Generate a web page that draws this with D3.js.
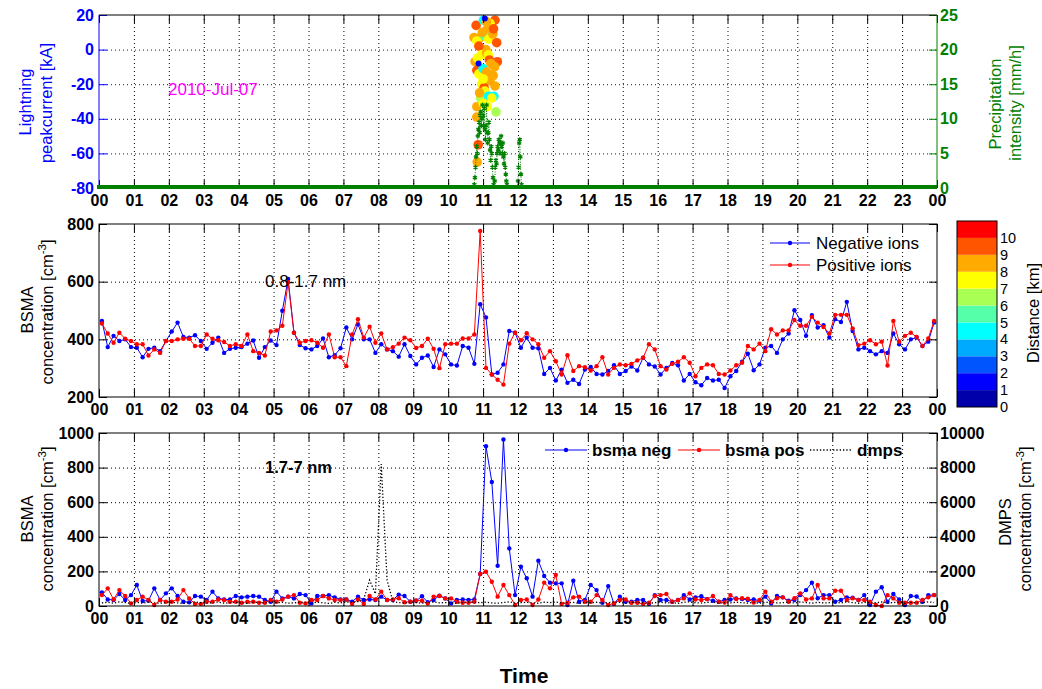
<!DOCTYPE html>
<html><head><meta charset="utf-8">
<script src="https://cdn.jsdelivr.net/npm/d3@7"></script>
<style>body{margin:0;background:#fff} svg text{font-family:"Liberation Sans",Arial,Helvetica,sans-serif}</style>
</head><body><svg id="c" width="1042" height="689"></svg>
<script>
// ---------------- DATA ----------------
const hourTicks = d3.range(0, 25);
const hourLabels = ["00","01","02","03","04","05","06","07","08","09","10","11","12","13","14","15","16","17","18","19","20","21","22","23","00"];
const lightTicks = [-80, -60, -40, -20, 0, 20];
const precipTicks = [0, 5, 10, 15, 20, 25];
const midTicks = [200, 400, 600, 800];
const lowTicks = [0, 200, 400, 600, 800, 1000];
const dmpsTicks = [0, 2000, 4000, 6000, 8000, 10000];
const distLabels = [0,1,2,3,4,5,6,7,8,9,10];
const distColors = ["#0000AA","#0000FF","#0055FF","#00AAFF","#00FFFF","#55FFAA","#AAFF55","#FFFF00","#FFAA00","#FF5500","#FF0000"];

// BSMA 10-min averages, 00:05 ... 23:55
const midNeg = [464,373,412,394,400,373, 371,338,367,371,359,394, 427,458,408,406,414,394, 367,388,406,353,367,371,
 373,385,396,336,373,396, 380,499,609,423,380,369, 365,377,403,338,345,369, 441,400,452,400,400,353,
 383,365,359,340,383,342, 313,336,344,304,365,348, 313,309,377,371,315,522, 476,278,284,313,429,423,
 371,406,371,369,280,301, 257,295,249,260,245,295, 304,280,278,290,310,280, 290,306,292,336,313,306,
 278,301,318,310,257,280, 251,241,266,257,260,231, 272,290,322,350,293,313, 371,377,353,400,420,501,
 467,412,484,441,449,406, 470,460,530,429,365,371, 359,348,359,353,420,383, 365,400,406,377,392,458];
const midPos = [455,420,388,423,402,394, 383,383,344,365,353,394, 394,400,402,402,377,377, 417,402,397,391,377,383,
 377,417,359,353,344,427, 431,447,598,423,388,394, 397,388,371,417,338,338, 307,417,470,406,444,388,
 420,365,373,385,406,397, 370,377,402,367,300,383, 385,385,403,403,417,776, 301,278,260,243,385,423,
 397,421,400,383,336,359, 324,278,345,290,307,303, 292,307,338,278,301,313, 310,315,327,336,383,365,
 307,295,315,322,338,319, 272,301,313,310,280,278, 292,310,319,377,365,385, 359,435,417,431,431,467,
 447,447,478,458,443,420, 485,485,485,438,380,385, 397,383,392,309,464,392, 412,423,408,377,403,464];
const lowNeg = [79,38,35,69,35,63, 121,29,31,102,35,73, 102,58,25,21,58,54, 35,83,44,38,38,58,
 50,54,58,54,35,25, 83,44,54,44,69,63, 15,58,58,63,50,38, 38,25,54,35,38,35,
 54,35,35,66,58,25, 30,56,22,35,60,44, 15,35,38,35,38,185, 923,717,233,962,333,63,
 227,160,54,262,173,135, 131,131,6,146,25,35, 121,92,19,115,12,54, 25,25,35,35,12,63,
 35,35,25,35,63,38, 50,56,40,30,25,35, 38,44,40,35,38,30, 54,15,58,50,30,35,
 63,92,135,45,63,63, 25,35,50,48,35,63, 6,83,108,25,69,38, 6,58,55,25,63,63];
const lowPos = [63,102,38,92,58,15, 35,54,35,6,35,25, 25,38,92,44,12,12, 25,25,38,35,25,25,
 19,25,25,19,19,35, 25,38,54,63,19,15, 35,35,58,44,35,35, 38,12,38,12,58,38,
 83,35,38,45,22,25, 32,30,14,54,58,44, 44,25,19,19,25,185, 198,140,54,121,63,6,
 35,38,6,38,135,102, 179,12,19,50,54,25, 25,63,35,6,15,35, 38,19,19,12,19,58,
 63,69,25,35,44,73, 38,35,40,58,25,20, 63,40,45,42,20,35, 83,25,45,50,25,45,
 73,38,44,121,44,44, 88,88,35,45,35,35, 25,6,0,63,44,19, 19,19,19,35,50,63];
const dmps = [180,220,160,240,200,150, 210,170,230,190,160,200, 220,180,150,210,240,190, 170,200,230,160,190,210,
 180,150,220,200,170,240, 190,210,160,180,230,200, 170,220,190,150,210,180, 230,200,260,400,1500,700,
 8200,1500,250,200,170,220, 190,160,210,240,180,200, 170,150,200,230,210,190, 220,180,160,200,240,170,
 190,210,180,160,220,200, 230,170,190,210,150,200, 180,220,160,190,240,210, 170,200,230,180,160,190,
 210,180,200,150,220,240, 190,170,210,230,160,200, 180,220,190,170,210,160, 200,240,180,190,220,170,
 230,200,160,210,180,190, 220,170,240,200,160,210, 180,190,230,170,200,220, 160,210,190,180,240,200];

// precipitation, 1-min values from 10:44
const precipStartHour = 10 + 44/60;
const precip = [0,0.5,1.5,3,4.5,6,5,7.5,8.5,9.5,8,10.5,11,9,10,12,10.5,9,11.5,8.5,7,9,12,8,6.5,8,9.5,7,5.5,4,6,5,3,1.5,0.5,0,
 1,3,4,3.5,5,6,5.5,7,6.5,5,6.5,7.5,6,5,6.5,4.5,3.5,5,3,2,1,0.5,
 0,0,0,0,0,0,0,0,0,0,0,0,0,0,0,0,0,0,
 1,3,6.5,7,4.5,2,0.5,0];

// lightning strikes: time [h], peak current [kA], distance [km]
const lightTime = [10.80,11.01,11.34,11.20,11.10,11.13,10.74,10.91,10.82,11.05,11.16,11.28,11.39,10.98,11.30,11.08,10.88,
 10.77,10.84,10.95,11.10,11.15,11.41,11.33,11.18,10.82,10.88,11.00,11.10,11.20,11.29,11.22,10.96,11.03,11.05,11.34,11.00,
 10.93,11.15,11.31,10.90,11.25,10.82,11.00,11.12,11.37,10.82,10.86,10.83,11.05,10.87];
const lightPeak = [14,17,17,15,16,12,7,7,5,8,6,9,4,10,12,0,2,
 -7,-5,-3,-2,-3,-7,-10,-6,-12,-14,-11,-13,-18,-15,-8,-20,-22,-24,-21,-17,
 -28,-27,-27,-25,-28,-33,-31,-33,-36,-39,-55,-65,18,-8];
const lightDist = [9,4,9,7,8,8,8,8,7,5,7,8,9,8,9,8,9,
 8,7,7,8,7,9,8,9,9,7,4,8,8,8,8,7,9,7,8,7,
 6,4,4,8,7,8,7,7,6,8,9,8,1,1];

// ---------------- LAYOUT ----------------
const X0 = 99, X1 = 937;
const P1 = {top: 15, bottom: 188}, P2 = {top: 224, bottom: 397}, P3 = {top: 433, bottom: 606};
const FONT = '"Liberation Sans", Arial, Helvetica, sans-serif';
const svg = d3.select('#c');
const x = d3.scaleLinear().domain([0, 24]).range([X0, X1]);
const bsmaTimes = midNeg.map((_, i) => (i + 0.5) / 6);

function styleText(g, size, weight) {
  g.selectAll('text').attr('font-size', size).attr('font-weight', weight).attr('font-family', FONT);
}
function xGrid(p, color) {
  const g = svg.append('g').attr('transform', `translate(0,${p.bottom})`)
    .call(d3.axisBottom(x).tickValues(hourTicks.slice(1, -1)).tickSize(-(p.bottom - p.top)).tickFormat(''));
  g.select('.domain').remove();
  g.selectAll('line').attr('stroke', color).attr('stroke-dasharray', '1,3');
}
function yGrid(y, vals, color) {
  const g = svg.append('g').attr('transform', `translate(${X0},0)`)
    .call(d3.axisLeft(y).tickValues(vals).tickSize(-(X1 - X0)).tickFormat(''));
  g.select('.domain').remove();
  g.selectAll('line').attr('stroke', color).attr('stroke-dasharray', '1,3');
}
function xTicks(p) {
  const gb = svg.append('g').attr('transform', `translate(0,${p.bottom})`).attr('color', '#000')
    .call(d3.axisBottom(x).tickValues(hourTicks).tickSize(-8).tickPadding(7).tickFormat((d, i) => hourLabels[i]));
  gb.select('.domain').remove();
  styleText(gb, 16, 'bold');
  const gt = svg.append('g').attr('transform', `translate(0,${p.top})`).attr('color', '#000')
    .call(d3.axisTop(x).tickValues(hourTicks).tickSize(-8).tickFormat(''));
  gt.select('.domain').remove();
}
function yTicksLeft(y, vals, color, labels) {
  const g = svg.append('g').attr('transform', `translate(${X0},0)`).attr('color', color)
    .call(d3.axisLeft(y).tickValues(vals).tickSize(-8).tickPadding(5).tickFormat(labels ? (d => String(d)) : ''));
  g.select('.domain').remove();
  styleText(g, 16, 'bold');
}
function yTicksRight(y, vals, color, labels) {
  const g = svg.append('g').attr('transform', `translate(${X1},0)`).attr('color', color)
    .call(d3.axisRight(y).tickValues(vals).tickSize(-8).tickPadding(3).tickFormat(labels ? (d => String(d)) : ''));
  g.select('.domain').remove();
  styleText(g, 16, 'bold');
}
function vLabel(txt, cx, cy, color, size, sup) {
  const t = svg.append('text').attr('transform', `translate(${cx},${cy}) rotate(-90)`)
    .attr('text-anchor', 'middle').attr('dy', '0.35em').attr('fill', color)
    .attr('font-size', size).attr('font-family', FONT);
  t.append('tspan').text(txt);
  if (sup) {
    t.append('tspan').attr('font-size', size * 0.7).attr('dy', '-0.55em').text(sup);
    t.append('tspan').attr('dy', '0.4em').text(']');
  }
  return t;
}
function hText(txt, px, py, color, size, weight, anchor) {
  return svg.append('text').attr('x', px).attr('y', py).attr('dy', '0.35em')
    .attr('text-anchor', anchor || 'start').attr('fill', color).attr('font-size', size)
    .attr('font-weight', weight || 'normal').attr('font-family', FONT).text(txt);
}
function series(y, vals, color) {
  const pts = vals.map((v, i) => [bsmaTimes[i], v]);
  svg.append('path').datum(pts).attr('fill', 'none').attr('stroke', color).attr('stroke-width', 1)
    .attr('d', d3.line().x(d => x(d[0])).y(d => y(d[1])));
  svg.append('g').selectAll('circle').data(pts).join('circle')
    .attr('cx', d => x(d[0])).attr('cy', d => y(d[1])).attr('r', 2.2).attr('fill', color);
}

// ---------------- PANEL 1: lightning / precipitation ----------------
const yL = d3.scaleLinear().domain([-80, 20]).range([P1.bottom, P1.top]);
const yP = d3.scaleLinear().domain([0, 25]).range([P1.bottom, P1.top]);
xGrid(P1, '#000');
yGrid(yL, [-60, -40, -20, 0], '#0000FF');

svg.append('g').selectAll('circle').data(lightTime.map((t, i) => [t, lightPeak[i], lightDist[i]])).join('circle')
  .attr('cx', d => x(d[0])).attr('cy', d => yL(d[1])).attr('r', d => d[2] <= 1 ? 3 : 4.8)
  .attr('fill', d => distColors[Math.max(0, Math.min(10, Math.floor(d[2])))]);

const precipPts = precip.map((v, i) => [precipStartHour + i / 60, v]);
svg.append('path').datum(precipPts).attr('fill', 'none').attr('stroke', '#008000').attr('stroke-width', 1)
  .attr('stroke-dasharray', '1,1.5').attr('d', d3.line().x(d => x(d[0])).y(d => yP(d[1])));
svg.append('g').selectAll('path').data(precipPts.filter(d => d[1] > 0)).join('path')
  .attr('transform', d => `translate(${x(d[0])},${yP(d[1])})`)
  .attr('d', d3.symbol(d3.symbolAsterisk, 16)).attr('fill', 'none').attr('stroke', '#008000').attr('stroke-width', 1.3);

xTicks(P1);
yTicksLeft(yL, lightTicks, '#0000FF', true);
yTicksRight(yP, precipTicks, '#008000', true);
svg.append('line').attr('x1', X0).attr('x2', X1).attr('y1', P1.top).attr('y2', P1.top).attr('stroke', '#000');
svg.append('line').attr('x1', X0).attr('x2', X0).attr('y1', P1.top).attr('y2', P1.bottom).attr('stroke', '#0000FF');
svg.append('line').attr('x1', X1).attr('x2', X1).attr('y1', P1.top).attr('y2', P1.bottom).attr('stroke', '#008000');
svg.append('line').attr('x1', x(0) - 2).attr('x2', x(24)).attr('y1', yP(0) - 1).attr('y2', yP(0) - 1)
  .attr('stroke', '#008000').attr('stroke-width', 4);

hText('2010-Jul-07', 168, 89, '#FF00FF', 17);
vLabel('Lightning', 25, 102, '#0000FF', 16.5);
vLabel('peakcurrent [kA]', 46, 103, '#0000FF', 16.5);
vLabel('Precipitation', 995, 104, '#008000', 16.5);
vLabel('intensity [mm/h]', 1015, 103, '#008000', 16.5);

// ---------------- PANEL 2: BSMA 0.8-1.7 nm ----------------
const yM = d3.scaleLinear().domain([200, 800]).range([P2.bottom, P2.top]);
xGrid(P2, '#000');
yGrid(yM, [400, 600], '#000');
series(yM, midNeg, '#0000FF');
series(yM, midPos, '#FF0000');
xTicks(P2);
yTicksLeft(yM, midTicks, '#000', true);
yTicksRight(yM, midTicks, '#000', false);
svg.append('rect').attr('x', X0).attr('y', P2.top).attr('width', X1 - X0).attr('height', P2.bottom - P2.top)
  .attr('fill', 'none').attr('stroke', '#000');
hText('0.8-1.7 nm', 265, 281, '#000', 17);
[[243, '#0000FF', 'Negative ions'], [265, '#FF0000', 'Positive ions']].forEach(([ly, c, t]) => {
  svg.append('line').attr('x1', 770).attr('x2', 810).attr('y1', ly).attr('y2', ly).attr('stroke', c);
  svg.append('circle').attr('cx', 790).attr('cy', ly).attr('r', 2.2).attr('fill', c);
  hText(t, 816, ly, '#000', 17);
});
vLabel('BSMA', 27, 310, '#000', 16.5);
vLabel('concentration [cm', 47, 312, '#000', 16.5, '-3');

// colorbar
const cb = d3.scaleLinear().domain([0, 11]).range([407, 221]);
svg.append('g').selectAll('rect').data(distColors).join('rect')
  .attr('x', 957).attr('width', 40).attr('y', (d, i) => cb(i + 1)).attr('height', (d, i) => cb(i) - cb(i + 1))
  .attr('fill', d => d);
svg.append('rect').attr('x', 957).attr('y', cb(11)).attr('width', 40).attr('height', cb(0) - cb(11))
  .attr('fill', 'none').attr('stroke', '#000');
svg.append('g').selectAll('text').data(distLabels).join('text')
  .attr('x', 1000).attr('y', d => cb(d)).attr('dy', '0.35em').attr('font-size', 14.5)
  .attr('font-family', FONT).attr('fill', '#000').text(d => d);
vLabel('Distance [km]', 1033, 313, '#000', 16.5);

// ---------------- PANEL 3: BSMA 1.7-7 nm + DMPS ----------------
const yB = d3.scaleLinear().domain([0, 1000]).range([P3.bottom, P3.top]);
const yD = d3.scaleLinear().domain([0, 10000]).range([P3.bottom, P3.top]);
xGrid(P3, '#000');
yGrid(yB, [200, 400, 600, 800], '#000');
series(yB, lowNeg, '#0000FF');
series(yB, lowPos, '#FF0000');
svg.append('path').datum(dmps.map((v, i) => [bsmaTimes[i], v])).attr('fill', 'none')
  .attr('stroke', '#000').attr('stroke-width', 1.3).attr('stroke-dasharray', '1.3,2')
  .attr('d', d3.line().x(d => x(d[0])).y(d => yD(d[1])));
xTicks(P3);
yTicksLeft(yB, lowTicks, '#000', true);
yTicksRight(yD, dmpsTicks, '#000', true);
svg.append('rect').attr('x', X0).attr('y', P3.top).attr('width', X1 - X0).attr('height', P3.bottom - P3.top)
  .attr('fill', 'none').attr('stroke', '#000');
hText('1.7-7 nm', 265, 467, '#000', 16.5, 'bold');
[[545, '#0000FF', 'bsma neg', false], [678, '#FF0000', 'bsma pos', false], [810, '#000', 'dmps', true]].forEach(([lx, c, t, dot]) => {
  const ln = svg.append('line').attr('x1', lx).attr('x2', lx + 42).attr('y1', 450).attr('y2', 450).attr('stroke', c);
  if (dot) ln.attr('stroke-dasharray', '1.3,2').attr('stroke-width', 1.3);
  else svg.append('circle').attr('cx', lx + 21).attr('cy', 450).attr('r', 2.2).attr('fill', c);
  hText(t, lx + 47, 450, '#000', 17, 'bold');
});
vLabel('BSMA', 27, 519, '#000', 16.5);
vLabel('concentration [cm', 47, 519, '#000', 16.5, '-3');
vLabel('DMPS', 1005, 522, '#000', 16.5);
vLabel('concentration [cm', 1025, 519, '#000', 16.5, '-3');

hText('Time', 524, 676, '#000', 21, 'bold', 'middle');
</script></body></html>
